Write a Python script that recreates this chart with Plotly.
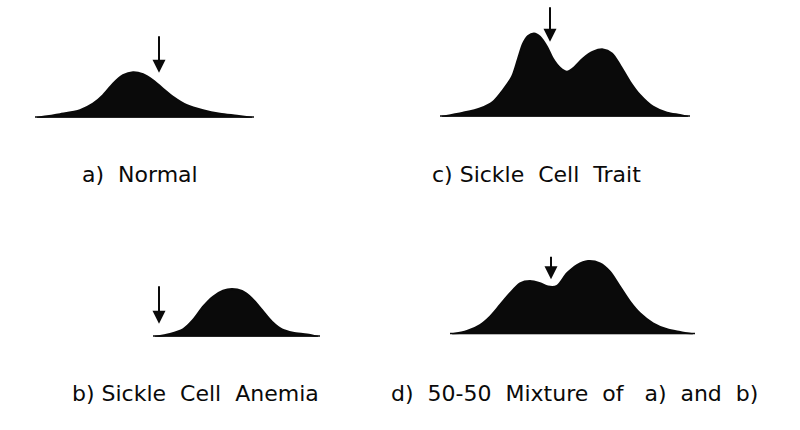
import plotly.graph_objects as go

# ---------------- data (mobility relative to the arrow, relative height) ----------------
labels = ["a)\u00a0 Normal", "c) Sickle\u00a0 Cell\u00a0 Trait",
          "b) Sickle\u00a0 Cell\u00a0 Anemia",
          "d)\u00a0 50-50\u00a0 Mixture\u00a0 of\u00a0\u00a0 a)\u00a0 and\u00a0 b)"]

pos_a = [-122, -99, -79, -66, -56, -46, -36, -26, -16, -6, 4, 14, 28, 44, 61, 78, 93]
h_a = [0, 3.5, 7.5, 14, 22.5, 34, 42.5, 45.5, 43.5, 37.5, 29, 21, 12.5, 7.5, 4, 2, 0]

pos_c = [-108, -87, -70, -57, -47, -38, -32, -27, -22, -16, -10, -3, 3, 10, 17, 23, 33, 43,
         53, 62, 70, 80, 90, 103, 117, 130, 138]
h_c = [0, 4, 8.3, 15, 26.7, 40, 58, 73, 80.7, 83.3, 80, 70, 58, 49, 45, 48.3, 58.3, 65,
       67.3, 63.3, 51.7, 35, 21.7, 10, 4, 1.7, 0]

pos_b = [-4, 11, 24, 34, 44, 54, 64, 73, 83, 93, 103, 113, 123, 134, 148, 159]
h_b = [0, 2.7, 7.3, 16.7, 30, 40, 46, 47.7, 45.7, 38.3, 26.7, 15, 7.3, 4, 2.3, 0]

pos_d = [-99, -84, -71, -61, -51, -41, -31, -21, -11, -3, 6, 16, 26, 37, 49, 59, 69, 79,
         89, 102, 116, 129, 142]
h_d = [0, 3.3, 9.3, 17.7, 29.3, 41, 51, 53.3, 51, 47.7, 48.3, 61, 69.3, 73.3, 71, 62.7,
       47.7, 32.7, 21, 11, 5, 2.3, 0]

arrow_x = [0, 0, 0, 0]            # reference point marked by the arrow
arrow_tip = [45, 75, 13, 55]      # height of arrow tip
arrow_tail = [83, 111, 52, 79]    # height of arrow tail

# ---------------- layout geometry (pixels) ----------------
W, H = 800, 430
# (x_left, x_right, arrow_px, baseline_px, top_px, label_cx, label_cy)
geo = [
    (20, 330, 159, 117.7, 0.0, 140, 174),
    (420, 780, 550, 116.7, 0.0, 536, 174),
    (20, 330, 159, 336.7, 216.7, 195, 393),
    (420, 780, 551, 334.3, 214.3, 574, 393),
]
series = [(pos_a, h_a), (pos_c, h_c), (pos_b, h_b), (pos_d, h_d)]

fig = go.Figure()
annotations = []
layout_axes = {}
for i, ((xs, ys), g) in enumerate(zip(series, geo)):
    xl, xr, ax_px, base_px, top_px, lcx, lcy = g
    n = "" if i == 0 else str(i + 1)
    xa, ya = "x" + n, "y" + n
    fig.add_trace(go.Scatter(x=xs, y=ys, xaxis=xa, yaxis=ya, mode="lines",
                             line=dict(color="#0a0a0a", width=2, shape="spline", smoothing=0.8),
                             fill="tozeroy", fillcolor="#0a0a0a", hoverinfo="skip"))
    fig.add_trace(go.Scatter(x=[xs[0] - 2, xs[-1] + 2], y=[0, 0], xaxis=xa, yaxis=ya,
                             mode="lines", line=dict(color="#0a0a0a", width=3),
                             hoverinfo="skip"))
    layout_axes["xaxis" + n] = dict(domain=[xl / W, xr / W],
                                    range=[xl - ax_px, xr - ax_px],
                                    visible=False, anchor=ya, fixedrange=True)
    layout_axes["yaxis" + n] = dict(domain=[1 - base_px / H, 1 - top_px / H],
                                    range=[0, base_px - top_px],
                                    visible=False, anchor=xa, fixedrange=True)
    annotations.append(dict(x=arrow_x[i], y=arrow_tip[i], ax=arrow_x[i], ay=arrow_tail[i],
                            xref=xa, yref=ya, axref=xa, ayref=ya, text="",
                            showarrow=True, arrowhead=2, arrowsize=1.3, arrowwidth=2,
                            arrowcolor="#0a0a0a", standoff=0))
    annotations.append(dict(x=lcx / W, y=1 - lcy / H, xref="paper", yref="paper",
                            text=labels[i], showarrow=False, xanchor="center",
                            yanchor="middle",
                            font=dict(family="DejaVu Sans", size=22, color="#0a0a0a")))

fig.update_layout(width=W, height=H, margin=dict(l=0, r=0, t=0, b=0),
                  paper_bgcolor="white", plot_bgcolor="white", showlegend=False,
                  annotations=annotations, **layout_axes)
fig.write_html("out.html", config={"displayModeBar": False},
               post_script="document.body.style.margin='0';document.body.style.overflow='hidden';")
